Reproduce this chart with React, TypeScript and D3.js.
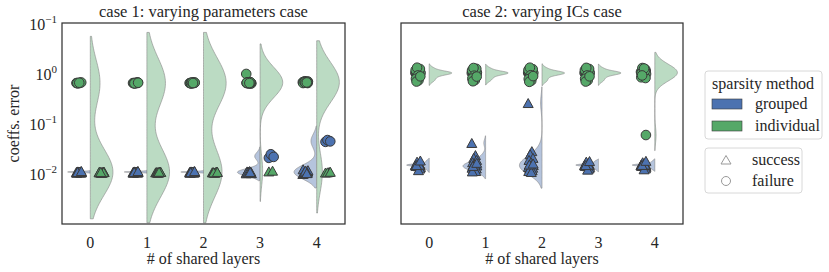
import React, { useEffect, useRef } from "react";
import * as d3 from "d3";

const layers = ["0", "1", "2", "3", "4"];
const panelTitles = ["case 1: varying parameters case", "case 2: varying ICs case"];
const methods = ["grouped", "individual"];
const outcomes = ["success", "failure"];
const yTickValues = [10, 1, 0.1, 0.01];
const yTickExponents = ["−1", "0", "−1", "−2"];

// case 1: coefficient errors per layer count (20 runs per method)
const case1GroupedSuccess = [
  [0.0115, 0.0114, 0.0116, 0.0113, 0.0117, 0.0115, 0.0112, 0.0118, 0.0114, 0.0116, 0.0115, 0.0111, 0.0119, 0.0115, 0.0114, 0.0116, 0.0113, 0.0117, 0.0115, 0.012],
  [0.0114, 0.0116, 0.0115, 0.0113, 0.0117, 0.0115, 0.0112, 0.0118, 0.0114, 0.0116, 0.0115, 0.0111, 0.0119, 0.0114, 0.0115, 0.0116, 0.0113, 0.0117, 0.0115, 0.012],
  [0.0115, 0.0116, 0.0114, 0.0113, 0.0117, 0.0115, 0.0112, 0.0118, 0.0115, 0.0116, 0.0114, 0.0111, 0.0119, 0.0115, 0.0114, 0.0116, 0.0113, 0.0117, 0.0114, 0.012],
  [0.0108, 0.0112, 0.0115, 0.011, 0.0118, 0.0113, 0.0111, 0.0116, 0.0109, 0.0114, 0.012, 0.0112, 0.0117, 0.0113, 0.011, 0.0115],
  [0.0105, 0.011, 0.0113, 0.0118, 0.0108, 0.0115, 0.012, 0.0112, 0.0125, 0.011, 0.0116, 0.013, 0.0111, 0.0114, 0.0122, 0.0109],
];
const case1GroupedFailure = [[], [], [], [0.022, 0.024, 0.026, 0.023], [0.046, 0.048, 0.05, 0.047]];
const case1IndividualSuccess = [
  [0.0113, 0.0115, 0.0112, 0.0116, 0.0114, 0.0111, 0.0117, 0.0113, 0.0115, 0.0114, 0.0112, 0.0116, 0.0114, 0.0115],
  [0.0113, 0.0115, 0.0112, 0.0116, 0.0114, 0.0111, 0.0117, 0.0113, 0.0115, 0.0114, 0.0116],
  [0.0113, 0.0115, 0.0112, 0.0116, 0.0114, 0.0111, 0.0117, 0.0113, 0.0115],
  [0.0118, 0.0122],
  [0.0112, 0.0115, 0.0113, 0.0116],
];
const case1IndividualFailure = [
  [0.69, 0.7, 0.68, 0.71, 0.69, 0.7],
  [0.69, 0.7, 0.68, 0.71, 0.69, 0.7, 0.69, 0.68, 0.7],
  [0.69, 0.7, 0.68, 0.71, 0.69, 0.7, 0.69, 0.68, 0.7, 0.71, 0.69],
  [1.05, 0.69, 0.7, 0.68, 0.71, 0.69, 0.7, 0.69, 0.68, 0.7, 0.71, 0.69, 0.7, 0.69, 0.68, 0.72, 0.7, 0.69],
  [0.72, 0.7, 0.75, 0.69, 0.71, 0.73, 0.7, 0.72, 0.74, 0.7, 0.71, 0.69, 0.73, 0.72, 0.7, 0.71],
];

// case 2
const case2GroupedSuccess = [
  [0.0158, 0.016, 0.0155, 0.0158, 0.0162, 0.015, 0.0165, 0.0158, 0.0145, 0.017, 0.0157, 0.0159, 0.0135, 0.0185, 0.0158, 0.0161, 0.0152, 0.0125, 0.0158, 0.0195],
  [0.0437, 0.025, 0.022, 0.02, 0.018, 0.0165, 0.016, 0.0158, 0.0155, 0.015, 0.0145, 0.014, 0.0135, 0.013, 0.0125, 0.012, 0.0118, 0.0162, 0.0152, 0.0175],
  [0.275, 0.03, 0.026, 0.022, 0.02, 0.018, 0.0165, 0.016, 0.0158, 0.0155, 0.015, 0.0145, 0.014, 0.0135, 0.013, 0.0125, 0.012, 0.0115, 0.0162, 0.017],
  [0.0158, 0.0161, 0.0154, 0.0158, 0.0163, 0.015, 0.0166, 0.0157, 0.0145, 0.0172, 0.0158, 0.0159, 0.0135, 0.0185, 0.0157, 0.0161, 0.0152, 0.0128, 0.0158, 0.019],
  [0.0158, 0.016, 0.0155, 0.0157, 0.0162, 0.0151, 0.0165, 0.0158, 0.0146, 0.017, 0.0156, 0.0159, 0.0136, 0.018, 0.0158, 0.0162, 0.0152, 0.013, 0.0159, 0.0192],
];
const case2GroupedFailure = [[], [], [], [], []];
const case2IndividualSuccess = [[], [], [], [], []];
const case2IndividualFailure = [
  [1.1, 1.09, 1.11, 1.1, 1.08, 1.12, 1.1, 1.09, 1.11, 1.1, 1.1, 1.25, 1.32, 1.4, 0.98, 0.9, 0.84, 0.78, 0.74, 0.94],
  [1.1, 1.09, 1.11, 1.1, 1.08, 1.12, 1.1, 1.09, 1.11, 1.1, 1.1, 1.24, 1.33, 1.38, 0.97, 0.91, 0.85, 0.79, 0.75, 0.93],
  [1.1, 1.09, 1.11, 1.1, 1.08, 1.12, 1.1, 1.09, 1.11, 1.1, 1.1, 1.26, 1.31, 1.4, 0.99, 0.9, 0.83, 0.77, 0.73, 0.95],
  [1.1, 1.09, 1.11, 1.1, 1.08, 1.12, 1.1, 1.09, 1.11, 1.1, 1.1, 1.25, 1.32, 1.39, 0.98, 0.9, 0.84, 0.78, 0.74, 0.94],
  [1.15, 1.12, 1.18, 1.2, 1.1, 1.25, 1.3, 1.38, 1.05, 1.0, 0.95, 0.9, 0.87, 1.14, 1.16, 1.22, 1.08, 1.35, 0.98, 0.063],
];

const panelData = [
  { grouped: { success: case1GroupedSuccess, failure: case1GroupedFailure }, individual: { success: case1IndividualSuccess, failure: case1IndividualFailure } },
  { grouped: { success: case2GroupedSuccess, failure: case2GroupedFailure }, individual: { success: case2IndividualSuccess, failure: case2IndividualFailure } },
];

const colors = { grouped: "#4c72b0", individual: "#55a868" };
const violinFill = { grouped: "#b5c4dd", individual: "#bbdbc3" };
const jitterPattern = [-0.9, 0.4, -0.2, 0.8, -0.6, 0.1, 0.6, -0.4, 0.9, -0.1, 0.3, -0.8, 0.7, -0.3, 0.0, 0.5, -0.7, 0.2, -0.5, 0.85];
const font = "'Liberation Serif', 'DejaVu Serif', serif";
const fs = 16;

// gaussian kde in log space, scott bandwidth, cut = 2
function kde(values) {
  const logs = values.map(Math.log10);
  const sd = d3.deviation(logs) || 0.001;
  const bw = sd * Math.pow(logs.length, -0.2);
  const lo = d3.min(logs) - 2 * bw;
  const hi = d3.max(logs) + 2 * bw;
  const grid = d3.range(120).map((i) => lo + ((hi - lo) * i) / 119);
  const dens = grid.map((g) => d3.sum(logs, (v) => Math.exp(-0.5 * ((g - v) / bw) ** 2)));
  const m = d3.max(dens);
  return grid.map((g, i) => ({ v: Math.pow(10, g), d: dens[i] / m }));
}

const triangle = "M0,-4.5L5,4.5L-5,4.5Z";

const App = () => {
  const ref = useRef();

  useEffect(() => {
    document.body.style.margin = "0";
    const width = 829;
    const height = 272;
    const top = 23;
    const bottom = 224;
    const panelX = [
      [62, 345],
      [401, 683],
    ];

    d3.select(ref.current).selectAll("*").remove();
    const svg = d3
      .select(ref.current)
      .append("svg")
      .attr("width", width)
      .attr("height", height)
      .style("display", "block")
      .style("font-family", font);

    const y = d3
      .scaleLog()
      .domain([Math.pow(10, -2.98), Math.pow(10, 1.04)])
      .range([bottom, top]);

    panelX.forEach(([x0, x1], p) => {
      const x = d3.scaleBand().domain(layers).range([x0, x1]);
      const bw = x.bandwidth();
      const g = svg.append("g");
      const data = panelData[p];

      // split violins: grouped on the left, individual on the right
      layers.forEach((layer, li) => {
        const cx = x(layer) + bw / 2;
        methods.forEach((m, mi) => {
          const vals = [...data[m].success[li], ...data[m].failure[li]];
          if (!vals.length) return;
          const side = mi === 0 ? -1 : 1;
          const area = d3
            .area()
            .y((d) => y(d.v))
            .x0(cx)
            .x1((d) => cx + side * d.d * bw * 0.4);
          g.append("path")
            .attr("d", area(kde(vals)))
            .attr("fill", violinFill[m])
            .attr("stroke", "#8a8a8a")
            .attr("stroke-opacity", 0.8)
            .attr("stroke-width", 0.8);
        });
      });

      // strip points
      outcomes.forEach((o) => {
        methods.forEach((m) => {
          const left = (o === "success" && m === "grouped") || (o === "failure" && m === "individual");
          const dodge = (left ? -0.2 : 0.2) * bw;
          layers.forEach((layer, li) => {
            const cx = x(layer) + bw / 2 + dodge;
            data[m][o][li].forEach((v, i) => {
              const px = cx + jitterPattern[i % jitterPattern.length] * 0.05 * bw;
              const py = y(v);
              if (o === "success") {
                g.append("path")
                  .attr("d", triangle)
                  .attr("transform", `translate(${px},${py})`)
                  .attr("fill", colors[m])
                  .attr("stroke", "#3a3a3a")
                  .attr("stroke-width", 1);
              } else {
                g.append("circle")
                  .attr("cx", px)
                  .attr("cy", py)
                  .attr("r", 4.8)
                  .attr("fill", colors[m])
                  .attr("stroke", "#3a3a3a")
                  .attr("stroke-width", 1);
              }
            });
          });
        });
      });

      // frame
      g.append("rect")
        .attr("x", x0)
        .attr("y", top)
        .attr("width", x1 - x0)
        .attr("height", bottom - top)
        .attr("fill", "none")
        .attr("stroke", "#333")
        .attr("stroke-width", 1.25);

      // x ticks
      layers.forEach((layer) => {
        g.append("text")
          .attr("x", x(layer) + bw / 2)
          .attr("y", 248)
          .attr("text-anchor", "middle")
          .attr("font-size", fs)
          .attr("fill", "#262626")
          .text(layer);
      });
      g.append("text")
        .attr("x", (x0 + x1) / 2)
        .attr("y", 264)
        .attr("text-anchor", "middle")
        .attr("font-size", fs)
        .attr("fill", "#262626")
        .text("# of shared layers");
      g.append("text")
        .attr("x", (x0 + x1) / 2)
        .attr("y", 17)
        .attr("text-anchor", "middle")
        .attr("font-size", fs + 0.5)
        .attr("fill", "#262626")
        .text(panelTitles[p]);

      if (p === 0) {
        yTickValues.forEach((v, i) => {
          const t = g
            .append("text")
            .attr("x", 57)
            .attr("y", y(v) + 5)
            .attr("text-anchor", "end")
            .attr("font-size", fs)
            .attr("fill", "#262626");
          t.append("tspan").text("10");
          t.append("tspan").attr("dy", -7).attr("font-size", 11).text(yTickExponents[i]);
        });
        g.append("text")
          .attr("transform", `translate(19,${(top + bottom) / 2}) rotate(-90)`)
          .attr("text-anchor", "middle")
          .attr("font-size", fs)
          .attr("fill", "#262626")
          .text("coeffs. error");
      }
    });

    // legends
    const leg = svg.append("g");
    leg.append("rect")
      .attr("x", 705).attr("y", 71).attr("width", 117).attr("height", 68)
      .attr("rx", 3).attr("fill", "white").attr("stroke", "#d8d8d8");
    leg.append("text").attr("x", 763).attr("y", 89).attr("text-anchor", "middle")
      .attr("font-size", fs).attr("fill", "#262626").text("sparsity method");
    methods.forEach((m, i) => {
      leg.append("rect")
        .attr("x", 712).attr("y", 99 + i * 22).attr("width", 30).attr("height", 10)
        .attr("fill", colors[m]).attr("stroke", "#3a3a3a").attr("stroke-width", 0.6);
      leg.append("text").attr("x", 755).attr("y", 109 + i * 22)
        .attr("font-size", fs).attr("fill", "#262626").text(m);
    });
    leg.append("rect")
      .attr("x", 705).attr("y", 148).attr("width", 97).attr("height", 45)
      .attr("rx", 3).attr("fill", "white").attr("stroke", "#d8d8d8");
    outcomes.forEach((o, i) => {
      const cy = 160 + i * 21;
      if (o === "success") {
        leg.append("path").attr("d", "M0,-4.5L5,4L-5,4Z").attr("transform", `translate(726,${cy})`)
          .attr("fill", "none").attr("stroke", "#999").attr("stroke-width", 1);
      } else {
        leg.append("circle").attr("cx", 726).attr("cy", cy).attr("r", 4.5)
          .attr("fill", "none").attr("stroke", "#999").attr("stroke-width", 1);
      }
      leg.append("text").attr("x", 752).attr("y", cy + 5)
        .attr("font-size", fs).attr("fill", "#262626").text(o);
    });
  }, []);

  return <div ref={ref}></div>;
};

export default App;
